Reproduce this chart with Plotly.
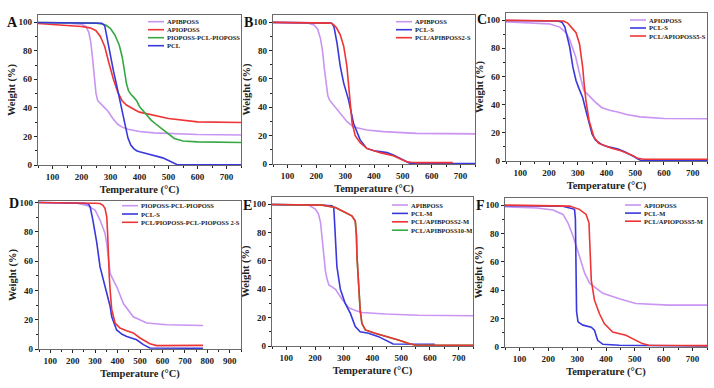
import plotly.graph_objects as go

W, H = 714, 388

# ---------------- data ----------------
# Panel A
A_apib_x = [50, 100, 150, 200, 215, 225, 232, 238, 244, 250, 256, 262, 275, 290, 300, 310, 325, 340, 360, 400, 450, 500, 600, 750]
A_apib_y = [99.6, 99.5, 99.3, 98.5, 97, 93, 86, 75, 62, 50, 45, 43.5, 41, 38, 35, 32, 28.5, 26.5, 25, 23.5, 22.5, 22, 21.3, 21]
A_apio_x = [50, 100, 150, 200, 230, 250, 265, 280, 295, 310, 325, 340, 355, 370, 385, 400, 440, 500, 600, 750]
A_apio_y = [99, 98.5, 98, 97, 96, 94, 90, 83, 71, 60, 51, 45, 42, 40, 38.5, 37, 35, 32.5, 30.2, 29.8]
A_pio_x = [50, 150, 250, 270, 285, 300, 315, 330, 340, 348, 355, 362, 370, 380, 390, 400, 420, 440, 460, 480, 500, 520, 550, 600, 750]
A_pio_y = [99.8, 99.7, 99.3, 98.8, 97.8, 95.5, 91, 84, 76, 66, 57, 52, 49.5, 47.5, 45, 41, 36, 31.4, 28, 25, 21.5, 18.6, 16.8, 16.2, 15.8]
A_pcl_x = [50, 150, 250, 270, 280, 290, 300, 310, 320, 330, 340, 350, 360, 370, 380, 390, 400, 420, 440, 460, 480, 500, 510, 520, 530, 750]
A_pcl_y = [99.8, 99.7, 99.5, 99.2, 97.5, 86, 75, 66, 57, 47.5, 37.5, 27, 19, 14, 11.5, 10, 9.2, 8.2, 7.3, 6.4, 5, 3.2, 2, 1, 0.2, 0.1]

# Panel B
B_apib_x = [50, 100, 150, 170, 192, 205, 215, 222, 228, 234, 240, 246, 260, 283, 306, 329, 350, 375, 433, 547, 750]
B_apib_y = [99.7, 99.7, 99.6, 99.4, 98, 95, 88, 79, 67, 56, 48, 45, 41.6, 35.7, 30, 26, 25, 24, 22.8, 21.6, 21.2]
B_pcl_x = [50, 150, 250, 255, 262, 272, 283, 295, 312, 329, 352, 375, 400, 421, 445, 467, 490, 501, 512, 524, 750]
B_pcl_y = [99.8, 99.7, 99.3, 99, 96, 85, 69, 57, 45, 28.7, 17, 11, 9.3, 8.7, 8, 6.4, 4, 2.8, 1.5, 0.5, 0.3]
B_red_x = [50, 150, 250, 261, 270, 283, 295, 306, 312, 318, 324, 335, 352, 375, 421, 467, 490, 513, 530, 547, 673]
B_red_y = [99.8, 99.7, 99.3, 98, 96, 91, 83, 69, 55, 41, 29, 20, 15, 11, 8, 5.8, 3.5, 1.6, 1.2, 1, 1]

# Panel C
C_apio_x = [50, 100, 150, 200, 237, 259, 272, 283, 293, 305, 321, 338, 360, 383, 410, 439, 470, 517, 600, 750]
C_apio_y = [98.7, 98.3, 98, 97.3, 95, 91, 86, 80, 73.6, 63, 50, 46.6, 42, 38, 36, 34.8, 33, 31.3, 30.2, 30]
C_pcl_x = [50, 150, 230, 245, 255, 261, 272, 283, 294, 305, 317, 328, 339, 350, 362, 385, 407, 440, 463, 480, 497, 508, 519, 750]
C_pcl_y = [99.7, 99.6, 99.3, 98.5, 95, 90, 80.7, 66.6, 57, 51, 45, 36, 26.6, 19, 14.8, 11.5, 10, 8.5, 6.6, 5, 3, 1.5, 0.5, 0.3]
C_red_x = [50, 150, 250, 265, 272, 283, 294, 306, 317, 322, 328, 339, 356, 373, 418, 450, 474, 490, 508, 530, 750]
C_red_y = [99.8, 99.7, 99.3, 97.8, 96, 94, 91, 83, 66.6, 55, 43.5, 29, 17, 12.5, 9, 7.3, 5.5, 4, 2, 1.2, 1.2]

# Panel D
D_pio_x = [50, 150, 219, 263, 300, 322, 344, 352, 359, 367, 381, 396, 426, 470, 530, 619, 781]
D_pio_y = [100, 99.9, 99.5, 98, 94.8, 88, 79, 72, 63, 51.7, 47, 42.6, 31, 22, 17.7, 16.5, 16]
D_pcl_x = [50, 150, 250, 270, 278, 290, 307, 322, 337, 352, 367, 374, 385, 396, 420, 441, 485, 515, 544, 781]
D_pcl_y = [100, 99.9, 99.5, 99, 97, 88, 73, 56, 47, 40, 29, 22, 17, 13, 10, 8.6, 6.3, 3, 0.7, 0.5]
D_red_x = [50, 150, 250, 300, 322, 335, 344, 352, 356, 359, 363, 367, 374, 389, 411, 440, 470, 500, 530, 544, 574, 781]
D_red_y = [100, 100, 99.8, 99.5, 99.3, 98, 96, 90, 78, 63, 50, 40, 27, 17.7, 14.3, 12.5, 11, 7.5, 4.5, 3.6, 2.3, 2.5]

# Panel E
E_apib_x = [50, 150, 178, 201, 212, 219, 225, 230, 236, 242, 248, 260, 271, 294, 317, 340, 363, 444, 559, 750]
E_apib_y = [99.6, 99.5, 99.3, 96.5, 93, 87, 76, 63, 53, 47, 43, 41.5, 40, 33, 27, 25, 23.6, 22.5, 21.7, 21.3]
E_pcl_x = [50, 150, 230, 259, 265, 268, 271, 276, 288, 305, 323, 340, 357, 386, 421, 455, 472, 617]
E_pcl_y = [99.7, 99.6, 99.2, 98.8, 97.6, 87, 73, 56, 40, 30, 23, 13.7, 10, 9, 6.6, 3, 1.4, 1.2]
E_red_x = [50, 150, 225, 271, 305, 328, 340, 344, 346, 349, 351, 354, 357, 363, 375, 409, 455, 490, 524, 547, 750]
E_red_y = [99.7, 99.6, 99.3, 97.6, 94, 91.7, 88, 78, 63, 50, 40, 32, 25.5, 16, 11.3, 9, 6.6, 4.3, 1.9, 0.7, 0.5]
E_grn_x = [50, 150, 225, 271, 305, 328, 340, 344, 346, 349, 351, 354, 357, 363, 375, 409, 455, 490, 524, 547, 750]
E_grn_y = [99.7, 99.6, 99.3, 97.6, 94, 91.7, 88, 78, 63, 50, 40, 32, 25.5, 16, 11.3, 9, 6.6, 4.3, 1.9, 0.7, 0.5]

# Panel F
F_apio_x = [50, 160, 217, 251, 268, 286, 308, 326, 343, 389, 446, 503, 618, 750]
F_apio_y = [98.8, 98, 96.5, 93.4, 87.5, 78, 64, 52, 45, 37.8, 34, 30.7, 29.5, 29.5]
F_pcl_x = [50, 150, 250, 274, 291, 294, 296, 298, 303, 320, 349, 360, 371, 389, 446, 750]
F_pcl_y = [99.6, 99.5, 99.2, 98, 97, 90, 50, 25, 17.7, 15.4, 14, 11.8, 4.7, 1.9, 1.2, 0.7]
F_red_x = [50, 150, 274, 308, 331, 341, 343, 345, 347, 349, 360, 377, 394, 423, 469, 503, 526, 549, 750]
F_red_y = [100, 99.8, 99.3, 97, 93.4, 87.5, 78, 64, 55, 47, 33, 23.6, 16.5, 10.6, 8.3, 4.7, 2.4, 1.2, 1]

x_ticks = [100, 200, 300, 400, 500, 600, 700]
x_ticks_D = [100, 200, 300, 400, 500, 600, 700, 800, 900]
y_ticks = [0, 20, 40, 60, 80, 100]

# ---------------- styles ----------------
VIO = "#c994f2"
RED = "#ee3535"
BLU = "#3838dd"
GRN = "#38a845"
SERIF = "Liberation Serif"

panels = [
    dict(letter="A", box=(38, 15, 241, 165), xr=[50, 750], yr=[0, 105], xt=x_ticks, lpos=(12, 22),
         leg=(148, 21.7, 8.0),
         series=[("APIBPOSS", A_apib_x, A_apib_y, VIO), ("APIOPOSS", A_apio_x, A_apio_y, RED),
                 ("PIOPOSS-PCL-PIOPOSS", A_pio_x, A_pio_y, GRN), ("PCL", A_pcl_x, A_pcl_y, BLU)]),
    dict(letter="B", box=(273, 15, 475, 164), xr=[50, 750], yr=[0, 105], xt=x_ticks, lpos=(248, 22),
         leg=(396, 21.7, 8.0),
         series=[("APIBPOSS", B_apib_x, B_apib_y, VIO), ("PCL-S", B_pcl_x, B_pcl_y, BLU),
                 ("PCL/APIBPOSS2-S", B_red_x, B_red_y, RED)]),
    dict(letter="C", box=(506, 13, 707, 161), xr=[50, 750], yr=[0, 105], xt=x_ticks, lpos=(482, 19),
         leg=(630, 20, 8.0),
         series=[("APIOPOSS", C_apio_x, C_apio_y, VIO), ("PCL-S", C_pcl_x, C_pcl_y, BLU),
                 ("PCL/APIOPOSS5-S", C_red_x, C_red_y, RED)]),
    dict(letter="D", box=(39, 201, 241, 349), xr=[50, 950], yr=[0, 101], xt=x_ticks_D, lpos=(14, 203),
         leg=(122, 205.7, 8.3),
         series=[("PIOPOSS-PCL-PIOPOSS", D_pio_x, D_pio_y, VIO), ("PCL-S", D_pcl_x, D_pcl_y, BLU),
                 ("PCL/PIOPOSS-PCL-PIOPOSS 2-S", D_red_x, D_red_y, RED)]),
    dict(letter="E", box=(272, 197, 473, 346), xr=[50, 750], yr=[0, 105], xt=x_ticks, lpos=(247, 205),
         leg=(392, 205, 8.4),
         series=[("APIBPOSS", E_apib_x, E_apib_y, VIO), ("PCL-M", E_pcl_x, E_pcl_y, BLU),
                 ("PCL/APIBPOSS10-M", E_grn_x, E_grn_y, GRN),
                 ("PCL/APIBPOSS2-M", E_red_x, E_red_y, RED)],
         legorder=[0, 1, 3, 2]),
    dict(letter="F", box=(505, 198, 707, 347), xr=[50, 750], yr=[0, 105], xt=x_ticks, lpos=(480, 205),
         leg=(625, 205, 8.1),
         series=[("APIOPOSS", F_apio_x, F_apio_y, VIO), ("PCL-M", F_pcl_x, F_pcl_y, BLU),
                 ("PCL/APIOPOSS5-M", F_red_x, F_red_y, RED)]),
]

fig = go.Figure()
layout = dict(width=W, height=H, margin=dict(l=0, r=0, t=0, b=0, autoexpand=False),
              paper_bgcolor="white", plot_bgcolor="white", showlegend=False, hovermode=False)
annotations = []
shapes = []

tickfont = dict(family=SERIF, size=9, color="#222", weight="bold")
titlefont = dict(family=SERIF, size=10.5, color="#222", weight="bold")

for i, p in enumerate(panels, start=1):
    l, t, r, b = p["box"]
    xa = "xaxis" if i == 1 else f"xaxis{i}"
    ya = "yaxis" if i == 1 else f"yaxis{i}"
    xref = "x" if i == 1 else f"x{i}"
    yref = "y" if i == 1 else f"y{i}"
    layout[xa] = dict(domain=[l / W, r / W], anchor=yref, range=p["xr"], tickvals=p["xt"],
                      automargin=False,
                      ticks="outside", ticklen=3, tickwidth=1, tickcolor="#222",
                      minor=dict(ticks="outside", ticklen=2, dtick=50, tickcolor="#222"),
                      showline=True, mirror=True, linecolor="#6a6a6a", linewidth=1.3,
                      showgrid=False, zeroline=False, tickfont=tickfont,
                      title=dict(text="Temperature (°C)", font=titlefont, standoff=4))
    layout[ya] = dict(domain=[1 - b / H, 1 - t / H], anchor=xref, range=p["yr"], tickvals=y_ticks,
                      automargin=False,
                      ticks="outside", ticklen=3, tickwidth=1, tickcolor="#222",
                      minor=dict(ticks="outside", ticklen=2, dtick=10, tickcolor="#222"),
                      showline=True, mirror=True, linecolor="#6a6a6a", linewidth=1.3,
                      showgrid=False, zeroline=False, tickfont=tickfont,
                      title=dict(text="Weight (%)", font=titlefont, standoff=0))
    for name, xs, ys, col in p["series"]:
        fig.add_trace(go.Scatter(x=xs, y=ys, mode="lines", name=name, xaxis=xref, yaxis=yref,
                                 line=dict(color=col, width=1.6)))
    # panel letter
    lx, ly = p["lpos"]
    annotations.append(dict(text=p["letter"], x=lx / W, y=1 - ly / H, xref="paper", yref="paper",
                            showarrow=False, xanchor="center", yanchor="middle",
                            font=dict(family=SERIF, size=14, color="#111", weight="bold")))
    # legend (drawn manually for compact rows)
    gx, gy, gdy = p["leg"]
    order = p.get("legorder", list(range(len(p["series"]))))
    for k, si in enumerate(order):
        name, _, _, col = p["series"][si]
        yy = 1 - (gy + k * gdy) / H
        shapes.append(dict(type="line", xref="paper", yref="paper", x0=gx / W, x1=(gx + 16) / W,
                           y0=yy, y1=yy, line=dict(color=col, width=1.6)))
        annotations.append(dict(text=name, x=(gx + 17) / W, y=yy, xref="paper", yref="paper",
                                showarrow=False, xanchor="left", yanchor="middle",
                                font=dict(family=SERIF, size=6.5, color="#222", weight="bold")))

layout["annotations"] = annotations
layout["shapes"] = shapes
fig.update_layout(**layout)
fig.write_html("out.html", config={"displayModeBar": False, "staticPlot": True},
               post_script="document.body.style.margin='0';document.body.style.overflow='hidden';")
